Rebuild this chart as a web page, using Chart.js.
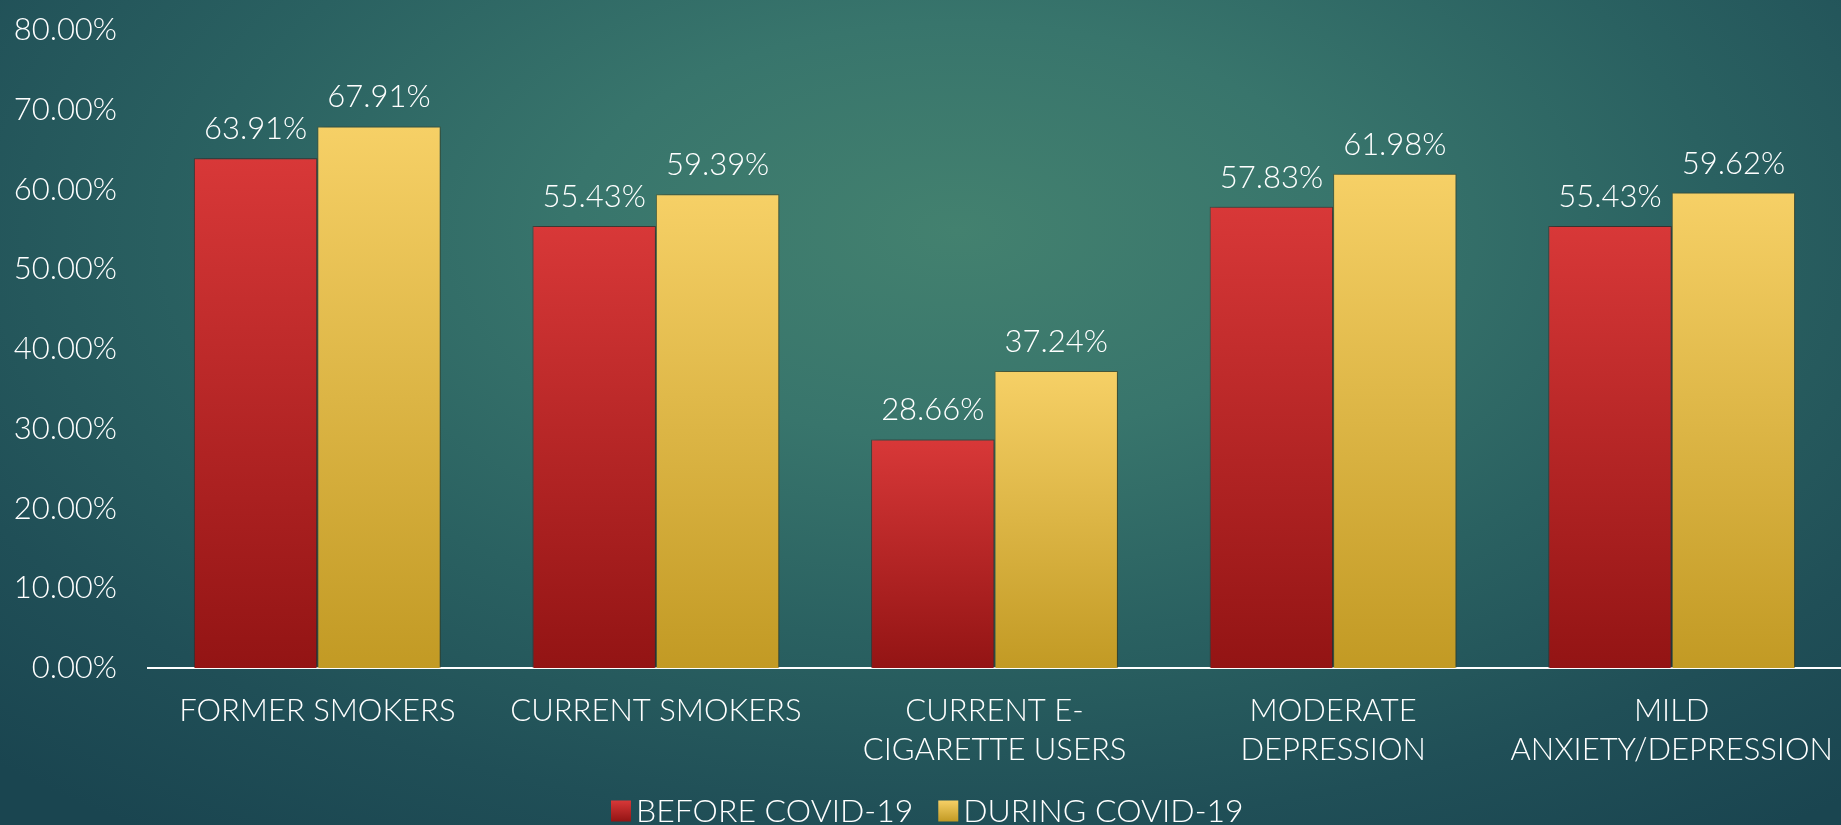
<!DOCTYPE html>
<html>
<head>
<meta charset="utf-8">
<script src="https://cdn.jsdelivr.net/npm/chart.js@4.4.1/dist/chart.umd.min.js"></script>
<style>
html,body{margin:0;padding:0;width:1841px;height:825px;overflow:hidden;}
body{background:radial-gradient(ellipse 75% 90% at 52% 28%, #43816f 0%, #38756c 28%, #2a6161 55%, #204f57 80%, #1a4550 100%);}
#wrap{position:absolute;left:0;top:0;width:1841px;height:825px;}
</style>
</head>
<body>
<div id="wrap"><canvas id="c" width="1841" height="825"></canvas></div>
<script>
const categories = [
  "FORMER SMOKERS",
  "CURRENT SMOKERS",
  ["CURRENT E-", "CIGARETTE USERS"],
  ["MODERATE", "DEPRESSION"],
  ["MILD", "ANXIETY/DEPRESSION"]
];
const seriesNames = ["BEFORE COVID-19", "DURING COVID-19"];
const beforeCovid = [63.91, 55.43, 28.66, 57.83, 55.43];
const duringCovid = [67.91, 59.39, 37.24, 61.98, 59.62];
const yTicks = { min: 0, max: 80, step: 10 };

const FONT = "Lato, 'Open Sans', sans-serif";
const RED = ['#d83838', '#931414'];
const GOLD = ['#f6d066', '#c29a24'];

function barGradient(cols, flat) {
  return function(ctx) {
    const chart = ctx.chart;
    if (!chart.chartArea || ctx.dataIndex === undefined || ctx.parsed === undefined) return flat;
    const ys = chart.scales.y;
    const yTop = ys.getPixelForValue(ctx.parsed.y);
    const yBase = ys.getPixelForValue(0);
    if (!isFinite(yTop) || !isFinite(yBase) || yTop === yBase) return flat;
    const g = chart.ctx.createLinearGradient(0, yTop, 0, yBase);
    g.addColorStop(0, cols[0]);
    g.addColorStop(1, cols[1]);
    return g;
  };
}

const shadowPlugin = {
  id: 'barShadow',
  beforeDatasetDraw(chart) {
    const c = chart.ctx;
    c.save();
    c.shadowColor = 'rgba(0,0,0,0.35)';
    c.shadowBlur = 8;
    c.shadowOffsetX = 3;
    c.shadowOffsetY = 0;
  },
  afterDatasetDraw(chart) {
    chart.ctx.restore();
  }
};

const valueLabels = {
  id: 'valueLabels',
  afterDatasetsDraw(chart) {
    const c = chart.ctx;
    c.save();
    c.font = "300 31px " + FONT;
    c.fillStyle = '#ffffff';
    c.textAlign = 'center';
    c.textBaseline = 'alphabetic';
    chart.data.datasets.forEach((ds, di) => {
      const meta = chart.getDatasetMeta(di);
      meta.data.forEach((bar, i) => {
        c.fillText(ds.data[i].toFixed(2) + '%', bar.x, bar.y - 19);
      });
    });
    c.restore();
  }
};

const customLegend = {
  id: 'customLegend',
  afterDraw(chart) {
    const c = chart.ctx;
    c.save();
    c.font = "300 32px " + FONT;
    c.textBaseline = 'middle';
    c.textAlign = 'left';
    const box = 20, boxH = 21, gap = 5, spacing = 25;
    const cols = [RED, GOLD];
    let x = 611;
    const cy = 811;
    seriesNames.forEach((n, i) => {
      const g = c.createLinearGradient(0, cy - boxH / 2, 0, cy + boxH / 2);
      g.addColorStop(0, cols[i][0]);
      g.addColorStop(1, cols[i][1]);
      c.fillStyle = g;
      c.fillRect(x, cy - boxH / 2, box, boxH);
      c.fillStyle = '#ffffff';
      c.fillText(n, x + box + gap, cy + 1);
      x += box + gap + c.measureText(n).width + spacing;
    });
    c.restore();
  }
};

new Chart(document.getElementById('c'), {
  type: 'bar',
  data: {
    labels: categories,
    datasets: [
      {
        label: seriesNames[0],
        data: beforeCovid,
        backgroundColor: barGradient(RED, '#c02828'),
        borderColor: 'rgba(90,20,15,0.5)',
        borderWidth: 1,
        categoryPercentage: 0.729,
        barPercentage: 1.0
      },
      {
        label: seriesNames[1],
        data: duringCovid,
        backgroundColor: barGradient(GOLD, '#e0b540'),
        borderColor: 'rgba(110,85,20,0.45)',
        borderWidth: 1,
        categoryPercentage: 0.729,
        barPercentage: 1.0
      }
    ]
  },
  options: {
    responsive: false,
    animation: false,
    layout: { padding: { top: 30, right: -8, left: 0, bottom: 33 } },
    plugins: {
      tooltip: { enabled: false },
      legend: { display: false }
    },
    scales: {
      x: {
        grid: { display: false, drawTicks: false },
        border: { display: true, color: '#ffffff', width: 2 },
        afterFit(scale) {
          scale.height = 124;
          scale.paddingLeft = 0;
          scale.paddingRight = 0;
        },
        ticks: {
          color: '#ffffff',
          font: { family: FONT, size: 31, weight: 300, lineHeight: 1.26 },
          padding: 23,
          maxRotation: 0,
          minRotation: 0,
          autoSkip: false
        }
      },
      y: {
        min: yTicks.min,
        max: yTicks.max,
        grid: { display: false, drawTicks: false },
        border: { display: false },
        afterFit(scale) {
          scale.width = 148;
          scale.paddingTop = 0;
          scale.paddingBottom = 0;
        },
        ticks: {
          stepSize: yTicks.step,
          color: '#ffffff',
          font: { family: FONT, size: 31, weight: 300 },
          padding: 31,
          callback: v => Number(v).toFixed(2) + '%'
        }
      }
    }
  },
  plugins: [shadowPlugin, valueLabels, customLegend]
});
</script>
</body>
</html>
